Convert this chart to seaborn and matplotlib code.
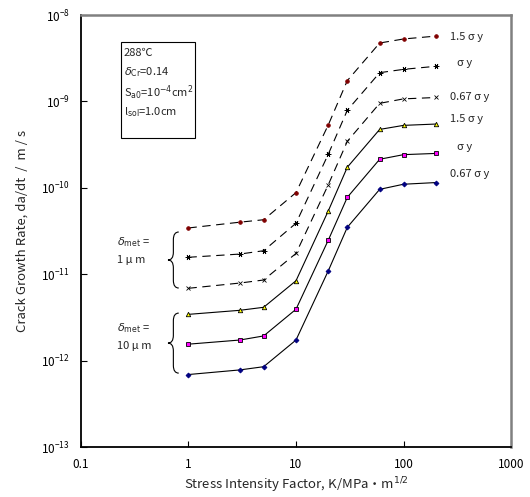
"""
Crack growth rate vs stress intensity factor (log-log), 6 model curves
"""

import numpy as np
import pandas as pd
import matplotlib
matplotlib.use("Agg")
import matplotlib.pyplot as plt
import seaborn as sns
from matplotlib.path import Path
from matplotlib.patches import PathPatch, Rectangle

sns.set_theme(style="white")
plt.rcParams['font.family'] = ['Noto Sans CJK JP', 'DejaVu Sans']
plt.rcParams['mathtext.fontset'] = 'dejavusans'
plt.rcParams['axes.unicode_minus'] = False

# stress intensity factor K (MPa m^1/2)
K = [1, 3, 5, 10, 20, 30, 60, 100, 200]

# da/dt (m/s), delta_met = 1 um (dashed)
met1_s150 = [3.43e-11, 4.0e-11, 4.27e-11, 8.8e-11, 5.37e-10, 1.74e-9, 4.74e-9, 5.28e-9, 5.7e-9]
met1_s100 = [1.57e-11, 1.71e-11, 1.87e-11, 3.89e-11, 2.46e-10, 7.9e-10, 2.15e-9, 2.35e-9, 2.55e-9]
met1_s067 = [6.87e-12, 7.9e-12, 8.57e-12, 1.74e-11, 1.09e-10, 3.45e-10, 9.5e-10, 1.07e-9, 1.11e-9]

# da/dt (m/s), delta_met = 10 um (solid)
met10_s150 = [3.43e-12, 3.82e-12, 4.14e-12, 8.4e-12, 5.43e-11, 1.73e-10, 4.74e-10, 5.28e-10, 5.47e-10]
met10_s100 = [1.55e-12, 1.73e-12, 1.93e-12, 3.93e-12, 2.49e-11, 7.76e-11, 2.14e-10, 2.42e-10, 2.5e-10]
met10_s067 = [6.9e-13, 7.8e-13, 8.5e-13, 1.73e-12, 1.1e-11, 3.49e-11, 9.6e-11, 1.1e-10, 1.15e-10]

series_labels = ["1.5 σ y", "σ y", "0.67 σ y", "1.5 σ y", "σ y", "0.67 σ y"]
label_y = [0.950, 0.888, 0.810, 0.759, 0.694, 0.632]
label_x = [0.858, 0.874, 0.858, 0.858, 0.874, 0.858]

x_ticks = [0.1, 1, 10, 100, 1000]
x_ticklabels = ["0.1", "1", "10", "100", "1000"]
y_ticks = [1e-13, 1e-12, 1e-11, 1e-10, 1e-9, 1e-8]

box_lines = ["288℃", r"$\delta_{\mathrm{Cr}}$=0.14",
             r"S$_{\mathrm{a0}}$=10$^{-4}$cm$^{2}$", r"l$_{\mathrm{sol}}$=1.0cm"]


def brace(ax, x, y0, y1, w=0.025, c=0.018):
    """左向きの波括弧 { を軸座標で描く"""
    ym = (y0 + y1) / 2
    xm = x + w / 2
    verts = [(x + w, y1), (xm, y1), (xm, y1 - c),
             (xm, ym + c), (xm, ym), (x, ym),
             (xm, ym), (xm, ym - c),
             (xm, y0 + c), (xm, y0), (x + w, y0)]
    codes = [Path.MOVETO, Path.CURVE3, Path.CURVE3,
             Path.LINETO, Path.CURVE3, Path.CURVE3,
             Path.CURVE3, Path.CURVE3,
             Path.LINETO, Path.CURVE3, Path.CURVE3]
    ax.add_patch(PathPatch(Path(verts, codes), transform=ax.transAxes,
                           fill=False, lw=0.8, color='black', clip_on=False))


fig = plt.figure(figsize=(5.30, 4.97), dpi=100)
ax = fig.add_axes([0.1528, 0.1006, 0.8114, 0.8692])

dash = (0, (7.5, 5))
styles = [
    (met1_s150, dash, 'o', '#800000', '#800000', 2.6),
    (met1_s100, dash, (6, 2, 90), 'black', 'black', 4),
    (met1_s067, dash, 'x', 'black', 'black', 3.2),
    (met10_s150, '-', '^', '#FFFF00', 'black', 3.2),
    (met10_s100, '-', 's', '#FF00FF', 'black', 2.8),
    (met10_s067, '-', 'D', '#000080', '#000080', 2.5),
]

for vals, ls, mk, fc, ec, ms in styles:
    df = pd.DataFrame({"K": K, "rate": vals})
    sns.lineplot(data=df, x="K", y="rate", ax=ax, color='black', lw=0.8,
                 linestyle=ls, marker=mk, markersize=ms, markerfacecolor=fc,
                 markeredgecolor=ec, markeredgewidth=0.6)

ax.set_xscale('log')
ax.set_yscale('log')
ax.set_xlim(0.1, 1000)
ax.set_ylim(1e-13, 1e-8)
ax.set_xticks(x_ticks)
ax.set_xticklabels(x_ticklabels)
ax.set_yticks(y_ticks)
ax.minorticks_off()
ax.tick_params(direction='in', length=4, width=0.8, labelsize=8.5, pad=8,
               bottom=True, left=True, colors='black')

for side in ['left', 'bottom']:
    ax.spines[side].set_color('black')
    ax.spines[side].set_linewidth(1.3)
for side in ['top', 'right']:
    ax.spines[side].set_color('#808080')
    ax.spines[side].set_linewidth(1.8)

ax.set_xlabel("Stress Intensity Factor, K/MPa・m$^{1/2}$", fontsize=9.5, labelpad=3)
ax.set_ylabel("Crack Growth Rate, da/dt  /  m / s", fontsize=9.5, labelpad=9)

# 条件ボックス
ax.add_patch(Rectangle((0.092, 0.716), 0.174, 0.221, transform=ax.transAxes,
                       fill=False, lw=0.8, edgecolor='black'))
for i, line in enumerate(box_lines):
    ax.text(0.099, 0.913 - i * 0.046, line, transform=ax.transAxes,
            fontsize=8, va='center', ha='left')

# 右側の曲線ラベル
for lab, lx, ly in zip(series_labels, label_x, label_y):
    ax.text(lx, ly, lab, transform=ax.transAxes, fontsize=8, va='center', ha='left')

# δmet の括弧
brace(ax, 0.2023, 0.368, 0.4977)
brace(ax, 0.2023, 0.171, 0.310)
ax.text(0.0837, 0.474, r"$\delta_{\mathrm{met}}$ =", transform=ax.transAxes,
        fontsize=8, va='center', ha='left')
ax.text(0.0837, 0.434, "1 μ m", transform=ax.transAxes,
        fontsize=8, va='center', ha='left')
ax.text(0.0837, 0.275, r"$\delta_{\mathrm{met}}$ =", transform=ax.transAxes,
        fontsize=8, va='center', ha='left')
ax.text(0.0837, 0.234, "10 μ m", transform=ax.transAxes,
        fontsize=8, va='center', ha='left')

fig.savefig("out.png", dpi=100)
plt.close(fig)
